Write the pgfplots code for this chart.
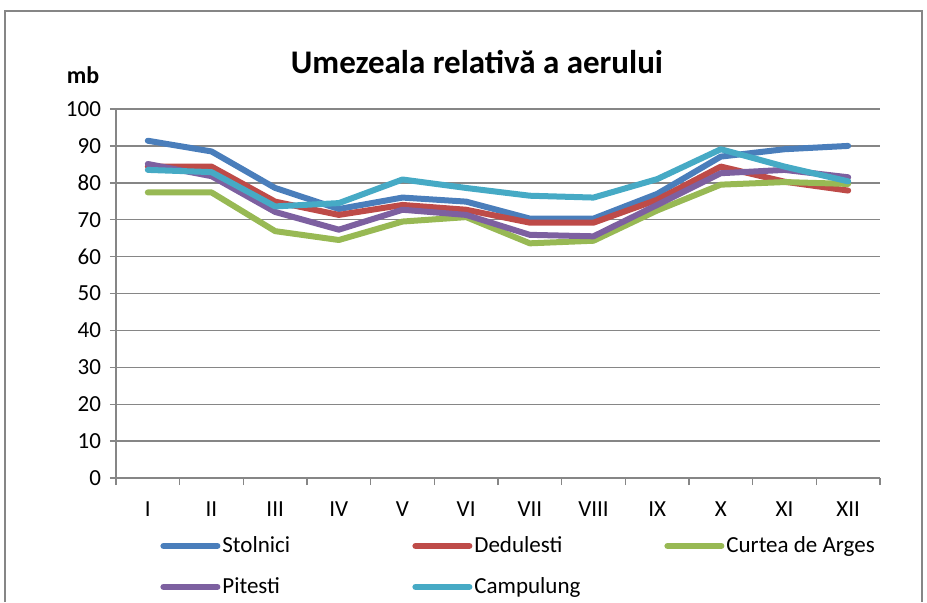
\documentclass[border=0pt]{standalone}
\usepackage{pgfplots}
\pgfplotsset{compat=1.18}
\usepackage{fontspec}
\setmainfont{Carlito}
\definecolor{cStol}{HTML}{4A7EBB}
\definecolor{cDed}{HTML}{BE4B48}
\definecolor{cCur}{HTML}{98B954}
\definecolor{cPit}{HTML}{7D60A0}
\definecolor{cCam}{HTML}{46AAC5}
\definecolor{gridc}{HTML}{868686}
\begin{document}
\begin{tikzpicture}
\path[use as bounding box] (-58pt,-62pt) rectangle (405.5pt,239pt);
\draw[gridc,line width=0.6pt] (-55.5pt,-62pt) -- (-55.5pt,233.5pt) -- (403pt,233.5pt) -- (403pt,-62pt);
\begin{axis}[at={(0pt,0pt)},anchor=south west,scale only axis,
 width=382pt,height=184.5pt,
 xmin=0.5,xmax=12.5,ymin=0,ymax=100,
 ytick={0,10,...,100},
 xtick={1,...,12},xticklabels={I,II,III,IV,V,VI,VII,VIII,IX,X,XI,XII},
 minor xtick={0.5,1.5,...,12.5},
 tick align=outside,major tick length=3pt,minor tick length=3.5pt,
 major x tick style={draw=none},
 every tick/.style={gridc,line width=0.7pt},
 ymajorgrids,grid style={gridc,line width=0.7pt},
 axis x line*=bottom,axis y line*=left,
 axis line style={gridc,line width=0.7pt,-},
 tick label style={font=\fontsize{11.5}{13}\selectfont,black},
 yticklabel style={xshift=-1pt},
 xticklabel style={yshift=-5.5pt},
 /pgf/number format/assume math mode=true,
 legend columns=3,
 legend style={at={(22pt,-28pt)},anchor=north west,draw=none,fill=none,
  font=\fontsize{11.5}{13}\selectfont,inner sep=0pt,row sep=9pt,
  nodes={inner xsep=1pt,inner ysep=1pt}},
 legend cell align=left,
 legend image code/.code={\draw[#1] (0pt,0pt) -- (27pt,0pt);},
 every axis plot/.append style={line width=3pt,line join=round,line cap=round}]
\addplot[cStol] coordinates {(1,91.4) (2,88.5) (3,78.6) (4,72.9) (5,76.0) (6,74.9) (7,70.3) (8,70.3) (9,77.0) (10,87.1) (11,89.1) (12,90.0)};
\addlegendentry{\makebox[94pt][l]{Stolnici}}
\addplot[cDed] coordinates {(1,84.4) (2,84.4) (3,74.9) (4,71.3) (5,74.0) (6,72.7) (7,69.2) (8,69.2) (9,75.4) (10,84.4) (11,80.3) (12,77.9)};
\addlegendentry{\makebox[94pt][l]{Dedulesti}}
\addplot[cCur] coordinates {(1,77.4) (2,77.4) (3,66.9) (4,64.5) (5,69.5) (6,70.7) (7,63.6) (8,64.3) (9,72.5) (10,79.5) (11,80.2) (12,79.7)};
\addlegendentry{Curtea de Arges}
\addplot[cPit] coordinates {(1,85.1) (2,81.8) (3,72.1) (4,67.3) (5,72.7) (6,71.3) (7,65.9) (8,65.5) (9,74.0) (10,82.6) (11,83.5) (12,81.5)};
\addlegendentry{\makebox[94pt][l]{Pitesti}}
\addplot[cCam] coordinates {(1,83.5) (2,82.9) (3,73.6) (4,74.5) (5,80.9) (6,78.6) (7,76.5) (8,76.0) (9,81.0) (10,89.1) (11,84.4) (12,80.4)};
\addlegendentry{Campulung}
\end{axis}
\node[font=\fontsize{16.5}{18}\selectfont\bfseries] at (180.5pt,208pt) {Umezeala relativă a aerului};
\node[font=\fontsize{12}{14}\selectfont\bfseries] at (-16.5pt,201.5pt) {mb};
\end{tikzpicture}
\end{document}
